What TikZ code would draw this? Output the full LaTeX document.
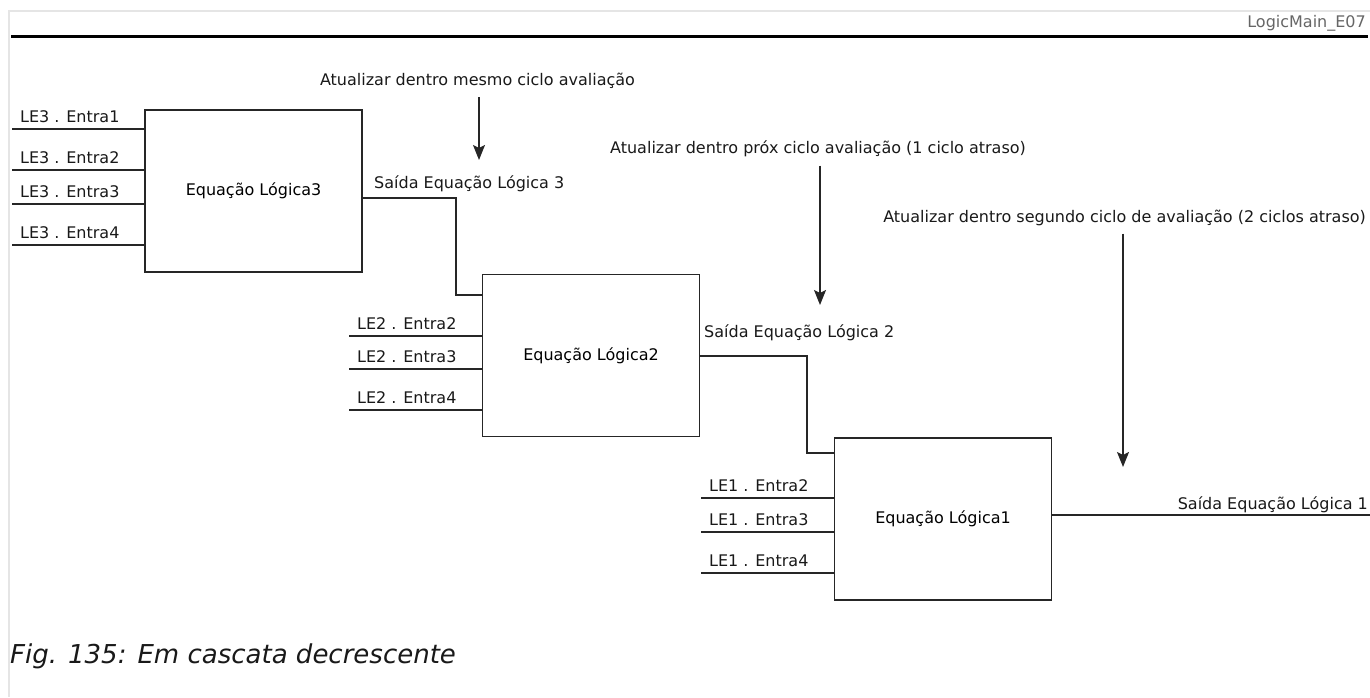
\documentclass[tikz,border=0pt]{standalone}
\usepackage{fontspec}
\setmainfont{DejaVu Sans}[ItalicFont={DejaVu Sans Oblique}]
\usepackage{tikz}
\usetikzlibrary{arrows.meta, positioning, calc}

\begin{document}
\begin{tikzpicture}[x=1pt, y=-1pt,
    block/.style={draw=black!85, line width=1.3pt, minimum width=217pt, minimum height=162pt, inner sep=0pt, font=\fontsize{16}{19}\selectfont},
    wire/.style={draw=black!85, line width=1.3pt},
    arrow/.style={-{Stealth[length=15pt, width=12pt, inset=3pt]}, line width=1.3pt, black!85},
    lbl/.style={inner sep=0pt, font=\fontsize{16}{19}\selectfont, text=black!90}
]
\useasboundingbox (0,0) rectangle (1370,697);
\draw[black!10, line width=2pt] (1370,11) -- (9,11) -- (9,697);
\draw[black, line width=3pt] (11,36) -- (1368,36);
\node[lbl, anchor=base east, text=black!60] (tag) at (1366,27) {LogicMain\_E07};

\node[block] (le3) at (253.5,191) {Equação Lógica3};
\node[block] (le2) at (591,355.5) {Equação Lógica2};
\node[block] (le1) at (943,519) {Equação Lógica1};

\foreach \y/\n in {129/1,170/2,204/3,245/4} {
    \coordinate (in3\n) at (12,\y);
    \draw[wire] (in3\n) -- (in3\n -| le3.west);
    \node[lbl, anchor=base west] (t3\n) at ($(in3\n)+(8,-6.5)$) {LE3 . Entra\n};
}
\foreach \y/\n in {336/2,369/3,410/4} {
    \coordinate (in2\n) at (349,\y);
    \draw[wire] (in2\n) -- (in2\n -| le2.west);
    \node[lbl, anchor=base west] (t2\n) at ($(in2\n)+(8,-6.5)$) {LE2 . Entra\n};
}
\foreach \y/\n in {498/2,532/3,573/4} {
    \coordinate (in1\n) at (701,\y);
    \draw[wire] (in1\n) -- (in1\n -| le1.west);
    \node[lbl, anchor=base west] (t1\n) at ($(in1\n)+(8,-6.5)$) {LE1 . Entra\n};
}

\coordinate (k3) at (456,295);
\coordinate (k2) at (807,453);
\coordinate (out1) at (1370,515);
\draw[wire] (le3.east |- 0,198) -| (k3) -- (le2.west |- k3);
\draw[wire] (le2.east |- 0,356) -| (k2) -- (le1.west |- k2);
\draw[wire] (le1.east |- out1) -- (out1);

\node[lbl, anchor=base west] (s3) at (374,188) {Saída Equação Lógica 3};
\node[lbl, anchor=base west] (s2) at (704,337) {Saída Equação Lógica 2};
\node[lbl, anchor=base east] (s1) at (1368,509) {Saída Equação Lógica 1};

\node[lbl, anchor=base] (n1) at (477.5,85) {Atualizar dentro mesmo ciclo avaliação};
\node[lbl, anchor=base] (n2) at (818,153) {Atualizar dentro próx ciclo avaliação (1 ciclo atraso)};
\node[lbl, anchor=base east] (n3) at (1366,222) {Atualizar dentro segundo ciclo de avaliação (2 ciclos atraso)};

\coordinate (a1) at (479,160);
\coordinate (a2) at (820,305);
\coordinate (a3) at (1123,467);
\draw[arrow, shorten <=9pt] (n1.south -| a1) -- (a1);
\draw[arrow, shorten <=9pt] (n2.south -| a2) -- (a2);
\draw[arrow, shorten <=8pt] (n3.south -| a3) -- (a3);

\node[anchor=base west, inner sep=0pt, font=\fontsize{26}{30}\selectfont\itshape, text=black!90] (cap) at (10,663) {Fig. 135: Em cascata decrescente};
\end{tikzpicture}
\end{document}
